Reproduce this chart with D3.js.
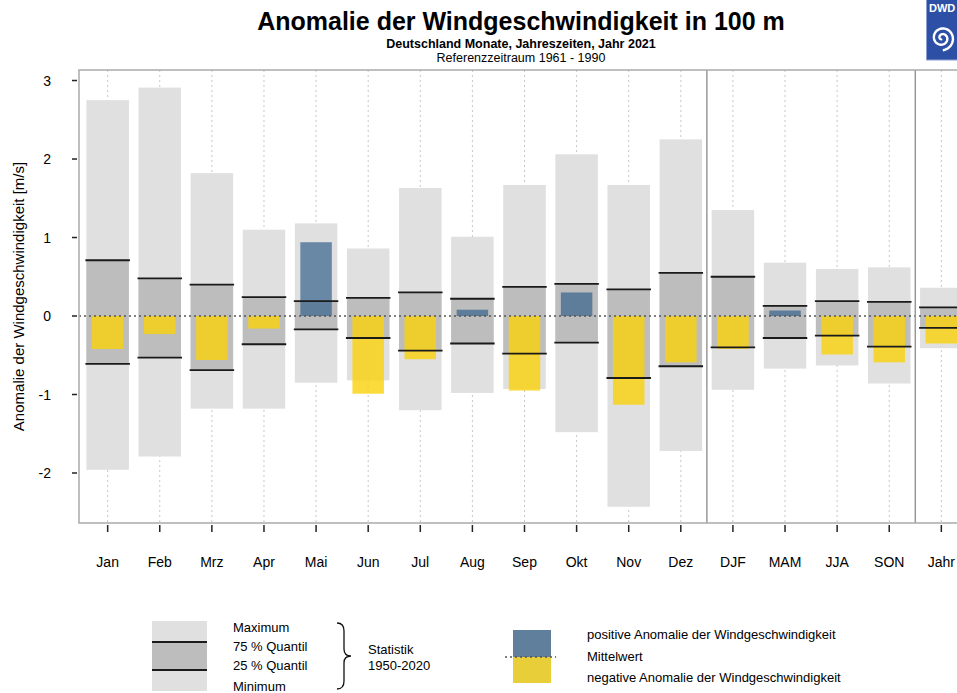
<!DOCTYPE html>
<html>
<head>
<meta charset="utf-8">
<script src="https://cdn.jsdelivr.net/npm/d3@7"></script>
<style>
  body { margin: 0; background: #fff; }
  text { font-family: "Liberation Sans", Arial, sans-serif; fill: #000; }
</style>
</head>
<body>
<div id="chart"></div>
<script>
// Kategorien und Werte (m/s Anomalie, Referenz 1961-1990)
var categories = ["Jan", "Feb", "Mrz", "Apr", "Mai", "Jun", "Jul", "Aug", "Sep", "Okt", "Nov", "Dez",
                  "DJF", "MAM", "JJA", "SON", "Jahr"];
var maxValues = [2.75, 2.91, 1.82, 1.10, 1.18, 0.86, 1.63, 1.01, 1.67, 2.06, 1.67, 2.25, 1.35, 0.68, 0.60, 0.62, 0.36];
var minValues = [-1.96, -1.79, -1.18, -1.18, -0.85, -0.82, -1.20, -0.98, -0.93, -1.48, -2.43, -1.72, -0.94, -0.67, -0.63, -0.86, -0.41];
var q75Values = [0.71, 0.48, 0.40, 0.24, 0.19, 0.23, 0.30, 0.22, 0.37, 0.41, 0.34, 0.55, 0.50, 0.13, 0.19, 0.18, 0.11];
var q25Values = [-0.61, -0.53, -0.69, -0.36, -0.17, -0.28, -0.44, -0.35, -0.48, -0.34, -0.79, -0.64, -0.40, -0.28, -0.25, -0.39, -0.15];
var anomaly2021 = [-0.42, -0.23, -0.56, -0.16, 0.94, -0.99, -0.55, 0.08, -0.95, 0.30, -1.13, -0.59, -0.42, 0.07, -0.49, -0.59, -0.35];
var yTicks = [-2, -1, 0, 1, 2, 3];

var width = 957, height = 693;
var pLeft = 79, pRight = 970, pTop = 70, pBottom = 523;

var svg = d3.select("#chart").append("svg")
    .attr("width", width)
    .attr("height", height);

var x = d3.scalePoint()
    .domain(categories)
    .range([pLeft, pRight])
    .padding(0.55);

var y = d3.scaleLinear()
    .domain([-2.637, 3.134])
    .range([pBottom, pTop]);

var boxW = 42.5, barW = 31.5;

// Titel
svg.append("text").attr("x", 521).attr("y", 30)
    .attr("text-anchor", "middle").style("font-size", "25px").style("font-weight", "bold")
    .text("Anomalie der Windgeschwindigkeit in 100 m");
svg.append("text").attr("x", 521).attr("y", 48)
    .attr("text-anchor", "middle").style("font-size", "12.5px").style("font-weight", "bold")
    .text("Deutschland Monate, Jahreszeiten, Jahr 2021");
svg.append("text").attr("x", 521).attr("y", 62)
    .attr("text-anchor", "middle").style("font-size", "12.5px")
    .text("Referenzzeitraum 1961 - 1990");

// DWD Logo
var logo = svg.append("g");
logo.append("rect").attr("x", 926.5).attr("y", -1).attr("width", 34).attr("height", 61)
    .attr("fill", "#2d4fa6").attr("stroke", "#8da0d0").attr("stroke-width", 1);
logo.append("text").attr("x", 929).attr("y", 12)
    .style("font-size", "11px").style("font-weight", "bold").style("fill", "#fff")
    .text("DWD");
var spiralPts = d3.range(0, 4 * Math.PI, 0.1).map(function (t) {
    return [t + Math.PI, 1 + t * 0.9];
});
logo.append("path")
    .attr("transform", "translate(942,38)")
    .attr("d", d3.lineRadial()(spiralPts))
    .attr("fill", "none").attr("stroke", "#fff").attr("stroke-width", 2.4);

// vertikale Hilfslinien
svg.append("g").selectAll("line")
    .data(categories).enter().append("line")
    .attr("x1", function (d) { return x(d); })
    .attr("x2", function (d) { return x(d); })
    .attr("y1", pTop).attr("y2", pBottom)
    .attr("stroke", "#c8c8c8").attr("stroke-width", 1)
    .attr("stroke-dasharray", "2,3");

// Min-Max Boxen
svg.append("g").selectAll("rect")
    .data(categories).enter().append("rect")
    .attr("x", function (d) { return x(d) - boxW / 2; })
    .attr("y", function (d, i) { return y(maxValues[i]); })
    .attr("width", boxW)
    .attr("height", function (d, i) { return y(minValues[i]) - y(maxValues[i]); })
    .attr("fill", "#e0e0e0");

// Quartil Boxen
svg.append("g").selectAll("rect")
    .data(categories).enter().append("rect")
    .attr("x", function (d) { return x(d) - boxW / 2; })
    .attr("y", function (d, i) { return y(q75Values[i]); })
    .attr("width", boxW)
    .attr("height", function (d, i) { return y(q25Values[i]) - y(q75Values[i]); })
    .attr("fill", "#bdbdbd");

// Anomalie 2021
svg.append("g").selectAll("rect")
    .data(categories).enter().append("rect")
    .attr("x", function (d) { return x(d) - barW / 2; })
    .attr("y", function (d, i) { return y(Math.max(0, anomaly2021[i])); })
    .attr("width", barW)
    .attr("height", function (d, i) { return Math.abs(y(anomaly2021[i]) - y(0)); })
    .attr("fill", function (d, i) {
        return anomaly2021[i] > 0 ? "rgba(52,99,141,0.7)" : "rgba(250,210,10,0.8)";
    });

// Quartil Linien
var qLines = svg.append("g");
[q75Values, q25Values].forEach(function (vals) {
    qLines.selectAll(null)
        .data(categories).enter().append("line")
        .attr("x1", function (d) { return x(d) - boxW / 2 - 1; })
        .attr("x2", function (d) { return x(d) + boxW / 2 + 1; })
        .attr("y1", function (d, i) { return y(vals[i]); })
        .attr("y2", function (d, i) { return y(vals[i]); })
        .attr("stroke", "#1a1a1a").attr("stroke-width", 1.8);
});

// Nulllinie
svg.append("line")
    .attr("x1", pLeft).attr("x2", pRight)
    .attr("y1", y(0)).attr("y2", y(0))
    .attr("stroke", "#555").attr("stroke-width", 1.5)
    .attr("stroke-dasharray", "2,3");

// Trenner Monate / Jahreszeiten / Jahr
[["Dez", "DJF"], ["SON", "Jahr"]].forEach(function (p) {
    var sx = (x(p[0]) + x(p[1])) / 2;
    svg.append("line")
        .attr("x1", sx).attr("x2", sx).attr("y1", pTop).attr("y2", pBottom)
        .attr("stroke", "#999").attr("stroke-width", 1.5);
});

// Rahmen
svg.append("path")
    .attr("d", "M" + pRight + "," + pTop + "H" + pLeft + "V" + pBottom + "H" + pRight)
    .attr("fill", "none").attr("stroke", "#aaa").attr("stroke-width", 1.5);

// y Achse
var yAxis = svg.append("g");
yAxis.selectAll("line").data(yTicks).enter().append("line")
    .attr("x1", 72).attr("x2", 77)
    .attr("y1", function (d) { return y(d); })
    .attr("y2", function (d) { return y(d); })
    .attr("stroke", "#222").attr("stroke-width", 1.5);
yAxis.selectAll("text").data(yTicks).enter().append("text")
    .attr("x", 51)
    .attr("y", function (d) { return y(d) + 5; })
    .attr("text-anchor", "end").style("font-size", "14px")
    .text(function (d) { return d; });
svg.append("text")
    .attr("transform", "translate(24," + ((pTop + pBottom) / 2) + ") rotate(-90)")
    .attr("text-anchor", "middle").style("font-size", "15px")
    .text("Anomalie der Windgeschwindigkeit [m/s]");

// x Achse
var xAxis = svg.append("g");
xAxis.selectAll("line").data(categories).enter().append("line")
    .attr("x1", function (d) { return x(d); })
    .attr("x2", function (d) { return x(d); })
    .attr("y1", 525).attr("y2", 532)
    .attr("stroke", "#222").attr("stroke-width", 1.5);
xAxis.selectAll("text").data(categories).enter().append("text")
    .attr("x", function (d) { return x(d); })
    .attr("y", 567)
    .attr("text-anchor", "middle").style("font-size", "14px")
    .text(function (d) { return d; });

// Legende Statistik
var lg = svg.append("g");
lg.append("rect").attr("x", 152).attr("y", 621).attr("width", 55).attr("height", 70).attr("fill", "#e0e0e0");
lg.append("rect").attr("x", 152).attr("y", 642).attr("width", 55).attr("height", 28).attr("fill", "#bdbdbd");
[642, 670].forEach(function (ly) {
    lg.append("line").attr("x1", 152).attr("x2", 207).attr("y1", ly).attr("y2", ly)
        .attr("stroke", "#1a1a1a").attr("stroke-width", 1.8);
});
var statLabels = ["Maximum", "75 % Quantil", "25 % Quantil", "Minimum"];
var statY = [632, 651, 670, 691];
lg.selectAll(null).data(statLabels).enter().append("text")
    .attr("x", 233).attr("y", function (d, i) { return statY[i]; })
    .style("font-size", "13px").text(function (d) { return d; });
lg.append("path")
    .attr("d", "M337,623 Q344,623 344,631 L344,649 Q344,656 351,656 Q344,656 344,663 L344,681 Q344,689 337,689")
    .attr("fill", "none").attr("stroke", "#111").attr("stroke-width", 1.3);
lg.append("text").attr("x", 368).attr("y", 654).style("font-size", "13px").text("Statistik");
lg.append("text").attr("x", 368).attr("y", 670).style("font-size", "13px").text("1950-2020");

// Legende Anomalie
var la = svg.append("g");
la.append("rect").attr("x", 513).attr("y", 630).attr("width", 38).attr("height", 27).attr("fill", "#5f7f9c");
la.append("rect").attr("x", 513).attr("y", 657).attr("width", 38).attr("height", 26).attr("fill", "#e8cf3a");
la.append("line").attr("x1", 505).attr("x2", 556).attr("y1", 657).attr("y2", 657)
    .attr("stroke", "#555").attr("stroke-width", 1.5).attr("stroke-dasharray", "2,3");
var anomLabels = ["positive Anomalie der Windgeschwindigkeit", "Mittelwert", "negative Anomalie der Windgeschwindigkeit"];
var anomY = [639, 661, 682];
la.selectAll(null).data(anomLabels).enter().append("text")
    .attr("x", 587).attr("y", function (d, i) { return anomY[i]; })
    .style("font-size", "13px").text(function (d) { return d; });
</script>
</body>
</html>
